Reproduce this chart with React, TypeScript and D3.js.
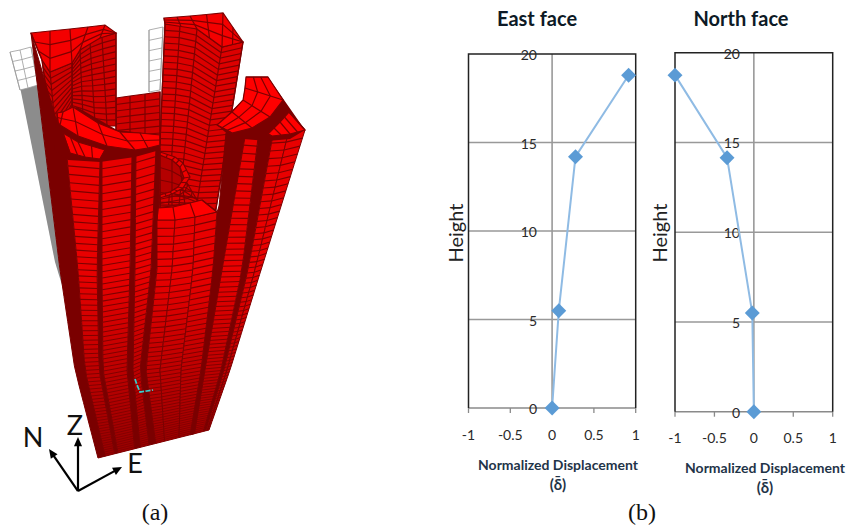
import * as d3 from 'd3'

type Pt = [number, number]

// chart values
const heightTicks = [0, 5, 10, 15, 20]
const dispTicks = [-1, -0.5, 0, 0.5, 1]
const eastDisp = [0, 0.08, 0.28, 0.915]
const eastHeight = [0, 5.5, 14.2, 18.8]
const northDisp = [0, -0.02, -0.34, -1]
const northHeight = [0, 5.5, 14.15, 18.75]

// model outline: vertical edges of the tower as [topX, topY, x at y=270, x at y=370, position along base]
const edges: Record<string, number[]> = {
  e0: [31, 33, 60, 75, 0], e1: [67, 157, 78, 85, 0.065], e2: [100, 160, 97, 99, 0.15],
  e3: [102, 160, 102, 103, 0.18], e4: [132, 155, 130, 127, 0.33], e5: [136, 154, 135, 133, 0.38],
  e6: [156, 148, 151, 140, 0.46], e7: [160, 148, 157, 146, 0.52], c0: [157, 220, 157, 146, 0.52],
  c1: [175, 220, 172, 160, 0.6], c2: [195, 217, 193, 181, 0.73], c3: [217, 212, 213, 201, 0.83],
  r0: [226, 133, 213, 201, 0.83], r1: [245, 137, 222, 205, 0.87], r2: [258, 138, 242, 221, 0.95],
  r3: [273, 135, 248, 224, 0.97], r4: [288, 134, 255, 227, 0.985], r5: [305, 130, 261, 230, 1],
}
const redStrips = [['e1', 'e2'], ['e3', 'e4'], ['e5', 'e6'], ['c0', 'c1'], ['c1', 'c2'], ['c2', 'c3'], ['r1', 'r2'], ['r3', 'r4'], ['r4', 'r5']]
const darkStrips = [['e0', 'e1'], ['e2', 'e3'], ['e4', 'e5'], ['e6', 'e7'], ['c3', 'r1'], ['r0', 'r1'], ['r2', 'r3']]

const wirePanels: { a: Pt[]; b: Pt[]; rows: number }[] = [
  { a: [[10, 52], [20, 50], [31, 47]], b: [[20, 90], [28, 88], [38, 85]], rows: 4 },
  { a: [[149, 30], [163, 27]], b: [[149, 92], [160, 90]], rows: 6 },
]
const grayWedge: Pt[] = [[20, 87], [38, 83], [65, 295], [55, 262]]

const walls: { a: Pt[]; b: Pt[]; rows: number; fill: string }[] = [
  // back walls
  { a: [[116, 98], [130, 96], [145, 94], [160, 92]], b: [[116, 215], [130, 215], [145, 215], [160, 215]], rows: 18, fill: '#d00000' },
  { a: [[165, 24], [180, 25], [197, 29], [222, 47], [243, 42]], b: [[157, 215], [168, 215], [178, 215], [195, 215], [215, 215]], rows: 30, fill: '#dc0000' },
  // back-left pier
  { a: [[72, 63], [80, 50], [90, 42], [102, 37], [116, 33]], b: [[72, 112], [83, 118], [95, 124], [107, 126], [116, 126]], rows: 15, fill: '#d00000' },
  { a: [[42, 60], [50, 72], [72, 63]], b: [[54, 148], [57, 146], [72, 112]], rows: 12, fill: '#d00000' },
]
const faces: { a: Pt[]; b: Pt[]; rows: number; sub: number }[] = [
  // back-left top
  { a: [[31, 33], [50, 31], [70, 29], [88, 27], [105, 25], [116, 33]], b: [[42, 60], [50, 72], [72, 63], [80, 50], [100, 38], [116, 33]], rows: 3, sub: 1 },
  // back-right top
  { a: [[164, 18], [190, 16], [223, 13], [243, 42]], b: [[165, 24], [197, 29], [222, 47], [243, 42]], rows: 3, sub: 2 },
]
const notchWall: { a: Pt[]; b: Pt[]; rows: number; fill: string } = {
  a: [[160, 155], [172, 160], [180, 167], [184, 178], [178, 187], [170, 192], [160, 195]],
  b: [[160, 205], [172, 205], [185, 205], [200, 205], [205, 205], [205, 205], [160, 212]],
  rows: 4, fill: '#b40000',
}
const notchBand: { a: Pt[]; b: Pt[]; rows: number; sub: number } = {
  a: [[160, 152], [175, 157], [183, 163], [190, 177], [183, 188], [172, 194], [160, 198]],
  b: [[160, 155], [172, 160], [180, 167], [184, 178], [178, 187], [170, 192], [160, 195]],
  rows: 1, sub: 2,
}
const ringBase: Pt[] = [[57, 113], [77, 107], [117, 130], [160, 135], [160, 150], [135, 157], [100, 162], [68, 160], [54, 150], [56, 123]]
const rightBase: Pt[] = [[217, 125], [243, 100], [246, 77], [268, 77], [305, 130], [290, 139], [268, 141], [232, 138]]
const topBands: { a: Pt[]; b: Pt[]; rows: number; sub: number }[] = [
  // front-left ring
  { a: [[57, 113], [63, 112], [73, 107], [98, 123], [120, 132], [140, 133], [160, 135]], b: [[58, 122], [60, 125], [78, 136], [107, 146], [135, 150], [148, 148], [160, 145]], rows: 2, sub: 1 },
  { a: [[63, 133], [78, 142], [105, 150]], b: [[70, 153], [85, 157], [100, 159]], rows: 1, sub: 2 },
  // front centre
  { a: [[158, 208], [173, 207], [190, 203], [202, 200]], b: [[157, 220], [175, 220], [195, 217], [217, 212]], rows: 1, sub: 1 },
  // right pier
  { a: [[217, 125], [232, 112], [243, 100], [245, 88], [246, 77]], b: [[232, 133], [252, 128], [270, 117], [283, 100], [268, 77]], rows: 3, sub: 1 },
  { a: [[268, 134], [280, 122], [289, 112]], b: [[272, 136], [290, 134], [305, 130]], rows: 1, sub: 2 },
]
const triad: Pt[] = [[135, 379], [137, 385], [140, 392], [147, 391], [153, 390]]

const WIDTH = 848
const HEIGHT = 527
const lineDark = '#7d0000'
const darkRed = '#7a0000'

const path = d3.line<Pt>()
const ease = (t: number) => (1 - Math.exp(-1.5 * t)) / (1 - Math.exp(-1.5))

function edgeAt(e: number[], t: number): Pt {
  const [xt, yt, x270, x370, f] = e
  const xb = 98 + 111 * f
  const yb = 458 - 28 * f
  const y = yt + (yb - yt) * ease(t)
  const x = d3.scaleLinear().domain([yt, 270, 370, yb]).range([xt, x270, x370, xb])(y)
  return [x, y]
}

function stripOutline(l: number[], r: number[]) {
  const ts = d3.range(0, 1.001, 1 / 16)
  return path([...ts.map(t => edgeAt(l, t)), ...ts.slice().reverse().map(t => edgeAt(r, t))]) + 'Z'
}

function Strip({ l, r, rows }: { l: number[]; r: number[]; rows: boolean }) {
  const n = Math.round((69 * (458 - l[1])) / 320)
  return (
    <g>
      <path d={stripOutline(l, r)} fill={rows ? '#e80000' : darkRed} stroke={rows ? lineDark : darkRed} strokeWidth={1} />
      {rows && d3.range(1, n).map(i => (
        <path key={i} d={path([edgeAt(l, i / n), edgeAt(r, i / n)]) || ''} stroke={lineDark} strokeWidth={1.2 - (0.5 * i) / n} />
      ))}
    </g>
  )
}

// split every segment of a polyline so top faces get more cells
function subdivide(line: Pt[], sub: number): Pt[] {
  const out: Pt[] = []
  line.forEach((p, i) => {
    if (i === line.length - 1) { out.push(p); return }
    const q = line[i + 1]
    d3.range(sub).forEach(k => out.push([p[0] + ((q[0] - p[0]) * k) / sub, p[1] + ((q[1] - p[1]) * k) / sub]))
  })
  return out
}

function Mesh({ a, b, rows, fill, stroke = lineDark, sw = 1.2, sub = 1 }: { a: Pt[]; b: Pt[]; rows: number; fill: string; stroke?: string; sw?: number; sub?: number }) {
  const top = subdivide(a, sub)
  const bot = subdivide(b, sub)
  const outline = path([...top, ...bot.slice().reverse()]) + 'Z'
  return (
    <g>
      <path d={outline} fill={fill} stroke={stroke} strokeWidth={sw} />
      {top.map((p, i) => <path key={'c' + i} d={path([p, bot[i]]) || ''} stroke={stroke} strokeWidth={sw} fill="none" />)}
      {d3.range(1, rows).map(r => (
        <path
          key={'r' + r}
          d={path(top.map((p, i) => [p[0] + ((bot[i][0] - p[0]) * r) / rows, p[1] + ((bot[i][1] - p[1]) * r) / rows] as Pt)) || ''}
          stroke={stroke}
          strokeWidth={sw}
          fill="none"
        />
      ))}
    </g>
  )
}

function Arrow({ to }: { to: Pt }) {
  const origin: Pt = [78, 491]
  const ang = Math.atan2(to[1] - origin[1], to[0] - origin[0])
  const head = (da: number): Pt => [to[0] - 10 * Math.cos(ang + da), to[1] - 10 * Math.sin(ang + da)]
  return (
    <g>
      <line x1={origin[0]} y1={origin[1]} x2={to[0] - 5 * Math.cos(ang)} y2={to[1] - 5 * Math.sin(ang)} stroke="#000" strokeWidth={2.2} />
      <path d={path([to, head(0.42), head(-0.42)]) + 'Z'} fill="#000" />
    </g>
  )
}

function Panel(props: {
  title: string; titleX: number; left: number; right: number; top: number; bottom: number
  heightX: number; disp: number[]; heights: number[]; labelY: number; labelRight: number; noteX: number; noteY: number
}) {
  const { title, titleX, left, right, top, bottom, heightX, disp, heights, labelY, labelRight, noteX, noteY } = props
  const x = d3.scaleLinear().domain([-1, 1]).range([left, right])
  const y = d3.scaleLinear().domain([0, 20]).range([bottom, top])
  const pts = disp.map((d, i) => [x(d), y(heights[i])] as Pt)
  const diamond = d3.symbol(d3.symbolSquare, 112)() || ''
  const font = 'Lato, "Open Sans", sans-serif'
  return (
    <g fontFamily={font}>
      <text x={titleX} y={26} textAnchor="middle" fontSize={20} fontWeight={700} fill="#0d1a26">{title}</text>
      {heightTicks.slice(1, 4).map(t => (
        <line key={t} x1={left} x2={right} y1={y(t)} y2={y(t)} stroke="#999" strokeWidth={1.4} />
      ))}
      <line x1={x(0)} x2={x(0)} y1={top} y2={bottom} stroke="#999" strokeWidth={1.6} />
      <line x1={left} x2={right} y1={bottom} y2={bottom} stroke="#8a8a8a" strokeWidth={1.5} />
      {dispTicks.map(t => (
        <line key={t} x1={x(t)} x2={x(t)} y1={bottom} y2={bottom + 5} stroke="#8a8a8a" strokeWidth={1.3} />
      ))}
      <path d={`M${left},${bottom}V${top}H${right}V${bottom}`} fill="none" stroke="#222" strokeWidth={1.5} />
      {heightTicks.map(t => (
        <text key={t} x={labelRight} y={y(t) + 6} textAnchor="end" fontSize={14} fill="#2a2a2a">{t}</text>
      ))}
      {dispTicks.map(t => (
        <text key={t} x={x(t)} y={labelY} textAnchor="middle" fontSize={14} fill="#2a2a2a">{t}</text>
      ))}
      <path d={path(pts) || ''} fill="none" stroke="#8fbbe4" strokeWidth={2} />
      {pts.map((p, i) => (
        <path key={i} d={diamond} transform={`translate(${p[0]},${p[1]}) rotate(45)`} fill="#5b9bd5" />
      ))}
      <text transform={`translate(${heightX},233) rotate(-90)`} textAnchor="middle" fontSize={20} fill="#222">Height</text>
      <text x={noteX} y={noteY} textAnchor="middle" fontSize={14} fontWeight={700} fill="#1f3448">Normalized Displacement</text>
      <text x={noteX} y={noteY + 20} textAnchor="middle" fontSize={15} fontWeight={700} fill="#1f3448">(δ̄)</text>
    </g>
  )
}

export default function App() {
  return (
    <svg width={WIDTH} height={HEIGHT} style={{ position: 'absolute', left: 0, top: 0, background: '#fff' }}>
      <defs>
        <filter id="soft"><feGaussianBlur stdDeviation={0.35} /></filter>
        <linearGradient id="fade" x1={0} x2={0} y1={0} y2={1}>
          <stop offset="0" stopColor="#7a0000" stopOpacity={0} />
          <stop offset="0.55" stopColor="#7a0000" stopOpacity={0.4} />
          <stop offset="1" stopColor="#7a0000" stopOpacity={0.75} />
        </linearGradient>
      </defs>
      <g filter="url(#soft)">
        <path d={path(grayWedge) + 'Z'} fill="#8c8c8c" />
        {wirePanels.map((w, i) => <Mesh key={i} {...w} fill="#fff" stroke="#9a9a9a" sw={0.8} />)}
        {walls.map((w, i) => <Mesh key={i} {...w} />)}
        {faces.map((w, i) => <Mesh key={i} {...w} fill="#f40000" />)}
        {darkStrips.map(([l, r]) => <Strip key={l + r} l={edges[l]} r={edges[r]} rows={false} />)}
        {redStrips.map(([l, r]) => <Strip key={l + r} l={edges[l]} r={edges[r]} rows />)}
        <path d={path([[60, 270], [261, 270], [230, 370], [209, 430], [98, 458], [75, 370]]) + 'Z'} fill="url(#fade)" />
        <Mesh {...notchWall} />
        <Mesh {...notchBand} fill="#ee0000" />
        <path d={path(ringBase) + 'Z'} fill={darkRed} />
        <path d={path(rightBase) + 'Z'} fill={darkRed} />
        {topBands.map((w, i) => <Mesh key={i} {...w} fill="#ff0000" />)}
        <path d={path(triad) || ''} fill="none" stroke="#35d0d0" strokeWidth={1.7} strokeDasharray="5 1.5" />
      </g>

      <Arrow to={[78, 437]} />
      <Arrow to={[49, 449]} />
      <Arrow to={[122, 467]} />
      <g fontFamily="Lato, sans-serif" fontSize={27} fill="#111" textAnchor="middle">
        <text x={75} y={435}>Z</text>
        <text x={33} y={447}>N</text>
        <text x={135} y={473}>E</text>
      </g>
      <g fontFamily='"Liberation Serif", serif' fontSize={24} fill="#111" textAnchor="middle">
        <text x={155} y={520}>(a)</text>
        <text x={642} y={520}>(b)</text>
      </g>

      <Panel title="East face" titleX={537} left={468.5} right={635.7} top={54} bottom={408}
        heightX={463} disp={eastDisp} heights={eastHeight} labelY={440} labelRight={537} noteX={558} noteY={470} />
      <Panel title="North face" titleX={741} left={675} right={832.7} top={52.7} bottom={411.7}
        heightX={667} disp={northDisp} heights={northHeight} labelY={443} labelRight={740} noteX={765} noteY={473} />
    </svg>
  )
}
